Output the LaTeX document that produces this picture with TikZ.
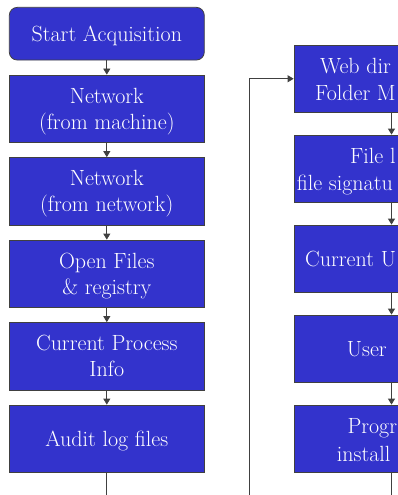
\documentclass[tikz,border=0pt]{standalone}
\usetikzlibrary{arrows.meta}
\definecolor{boxblue}{RGB}{51,51,204}
\definecolor{linegray}{RGB}{64,64,64}

\begin{document}
\begin{tikzpicture}[x=1pt, y=-1pt,
  box/.style={draw=linegray, line width=0.8pt, fill=boxblue, text=white, minimum width=195pt, minimum height=67.5pt, inner sep=0pt, text depth=0pt, align=center, font=\fontsize{22}{26}\selectfont},
  flow/.style={draw=linegray, line width=0.8pt, -{Triangle[width=7pt,length=6pt]}},
  wire/.style={draw=linegray, line width=0.8pt},
  cut/.style={text=white, anchor=base west, inner sep=0pt, font=\fontsize{22}{26}\selectfont}]
\useasboundingbox (0,0) rectangle (398,495);
\clip (0,0) rectangle (398,495);

% left column
\node[box, rounded corners=8pt, minimum height=52.7pt] (start) at (106.8,33.7) {Start Acquisition};
\node[box] (netmach) at (106.8,108.75) {Network\\(from machine)};
\node[box] (netnet) at (106.8,191.25) {Network\\(from network)};
\node[box] (openfiles) at (106.8,273.75) {Open Files\\\& registry};
\node[box] (curproc) at (106.8,356.25) {Current Process\\Info};
\node[box] (audit) at (106.8,438.75) {Audit log files};
\coordinate (leftend) at (106.8,495);

\draw[flow] (start) -- (netmach);
\draw[flow] (netmach) -- (netnet);
\draw[flow] (netnet) -- (openfiles);
\draw[flow] (openfiles) -- (curproc);
\draw[flow] (curproc) -- (audit);
\draw[wire] (audit) -- (leftend);

% right column (runs past the right edge)
\node[box] (webdir) at (391.5,78.75) {};
\node[box] (filelist) at (391.5,168.75) {};
\node[box] (curuser) at (391.5,258.75) {};
\node[box] (user) at (391.5,348.75) {};
\node[box] (progs) at (391.5,438.75) {};
\coordinate (loopstart) at (249,495);
\coordinate (rightend) at (391.5,495);

\node[cut] (webdirA) at (320,73.3) {Web dir};
\node[cut] (webdirB) at (315,100.5) {Folder M};
\node[cut] (filelistA) at (350,163.3) {File l};
\node[cut] (filelistB) at (296.7,190.5) {file signatu};
\node[cut] (curuserA) at (305,266.5) {Current U};
\node[cut] (userA) at (346.7,356.5) {User};
\node[cut] (progsA) at (347.3,433.5) {Progr};
\node[cut] (progsB) at (336.7,461) {install};

\draw[flow] (loopstart) |- (webdir);
\draw[flow] (webdir) -- (filelist);
\draw[flow] (filelist) -- (curuser);
\draw[flow] (curuser) -- (user);
\draw[flow] (user) -- (progs);
\draw[wire] (progs) -- (rightend);
\end{tikzpicture}
\end{document}
